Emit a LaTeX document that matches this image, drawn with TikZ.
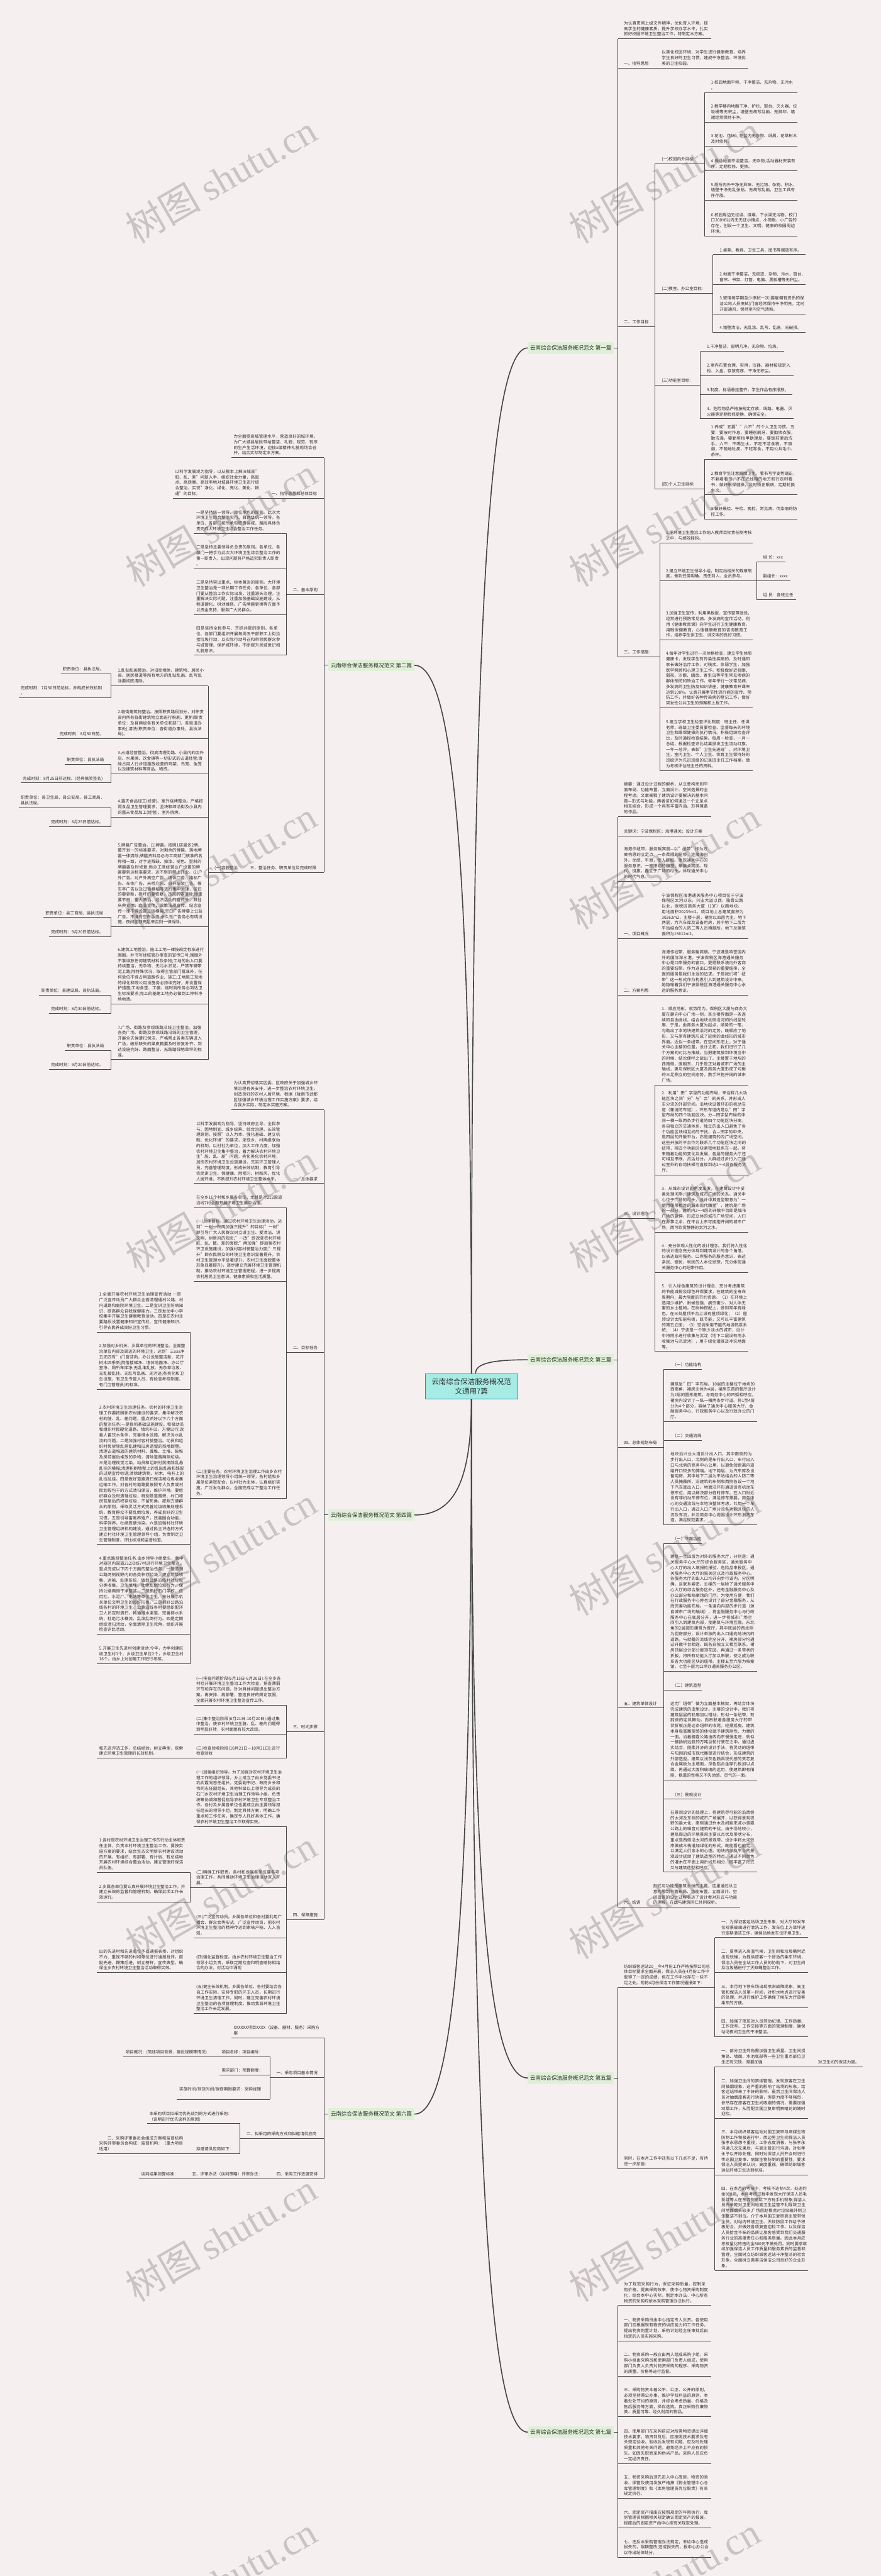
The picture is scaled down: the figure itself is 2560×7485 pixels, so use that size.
\documentclass[tikz,border=0pt]{standalone}
\usepackage{fontspec}
\setmainfont{Noto Sans CJK SC}
\newfontfamily\wmfont{Liberation Serif}[Scale=1]
\XeTeXlinebreaklocale "zh"
\XeTeXlinebreakskip = 0pt plus 1pt
\definecolor{bgc}{RGB}{246,239,240}
\definecolor{tc}{RGB}{45,45,45}
\definecolor{lc}{RGB}{70,70,70}
\definecolor{labg}{RGB}{224,240,216}
\definecolor{ctrf}{RGB}{166,235,228}
\definecolor{ctrd}{RGB}{58,127,200}
\definecolor{wmc}{RGB}{110,105,105}
\tikzset{
 txt/.style={inner sep=0pt, align=left, font=\fontsize{12}{16}\selectfont, text=tc, execute at end node=\strut},
 ln/.style={draw=lc, line width=1.8pt},
 trunk/.style={draw=lc, line width=3pt},
 lab/.style={fill=labg, inner xsep=7pt, inner ysep=0pt, minimum height=34pt, font=\fontsize{15.5}{18}\selectfont, text=tc},
 ctr/.style={fill=ctrf, draw=ctrd, line width=1.5pt, minimum width=268pt, minimum height=74pt, align=center, font=\fontsize{21}{27}\selectfont, text=tc},
 wm/.style={rotate=30, text=wmc, text opacity=0.32, font=\fontsize{110}{110}\selectfont}
}
% optional text width, name, x0, x1, yu, pad, text
\newcommand\TN[7][250]{%
 \coordinate (#2-l) at (#3,#5);
 \coordinate (#2-r) at (#4,#5);
 \node[txt, text width=#1pt, anchor=south west] (#2) at (#3+#6,#5-4) {#7};
 \draw[ln] (#2-l) -- (#2-r);
}
\newcommand\RC[2]{\foreach \cc in {#2}{\draw[ln] (#1-r) |- (\cc-l);}}
\newcommand\LC[2]{\foreach \cc in {#2}{\draw[ln] (#1-l) |- (\cc-r);}}
\begin{document}
\begin{tikzpicture}[x=1pt,y=-1pt]
\fill[bgc] (0,0) rectangle (2560,7485);
\useasboundingbox (0,0) rectangle (2560,7485);

% ---------------- centre ----------------
\node[ctr] (C) at (1370,4028) {云南综合保洁服务概况范\\文通用7篇};

% top-level labels
\node[lab, anchor=east] (T1) at (1784,1011) {云南综合保洁服务概况范文 第一篇};
\coordinate (T1-r) at (1796,1011);
\node[lab, anchor=west] (T2) at (954,1933) {云南综合保洁服务概况范文 第二篇};
\coordinate (T2-l) at (942,1933);
\node[lab, anchor=east] (T3) at (1784,3951) {云南综合保洁服务概况范文 第三篇};
\coordinate (T3-r) at (1796,3951);
\node[lab, anchor=west] (T4) at (954,4402) {云南综合保洁服务概况范文 第四篇};
\coordinate (T4-l) at (942,4402);
\node[lab, anchor=east] (T5) at (1784,6038) {云南综合保洁服务概况范文 第五篇};
\coordinate (T5-r) at (1796,6038);
\node[lab, anchor=west] (T6) at (954,6143) {云南综合保洁服务概况范文 第六篇};
\coordinate (T6-l) at (942,6143);
\node[lab, anchor=east] (T7) at (1784,7067) {云南综合保洁服务概况范文 第七篇};
\coordinate (T7-r) at (1796,7067);
\foreach \t in {T1,T3,T5,T7}{\draw[ln] (\t.east) -- (\t-r);}
\foreach \t in {T2,T4,T6}{\draw[ln] (\t.west) -- (\t-l);}

\draw[trunk] (C.north) .. controls (1370,1756) and (1424,1011) .. (T1.west);
\draw[trunk] (C.north) .. controls (1370,2447) and (1313,1933) .. (T2.east);
\draw[trunk] ([xshift=12pt]C.north) .. controls (1382,3961) and (1433,3951) .. (T3.west);
\draw[trunk] (C.south) .. controls (1370,4318) and (1313,4402) .. (T4.east);
\draw[trunk] (C.south) .. controls (1370,5545) and (1424,6038) .. (T5.west);
\draw[trunk] (C.south) .. controls (1370,5623) and (1313,6143) .. (T6.east);
\draw[trunk] (C.south) .. controls (1370,6316) and (1424,7067) .. (T7.west);

% ---------------- 第一篇 ----------------
\TN{a1}{1796}{2067}{113}{17}{为认真贯彻上级文件精神，优化育人环境，提高学生的健康素质，提升学校办学水平，扎实抓好校园环境卫生整治工作，特制定本方案。}
\TN{a2}{1796}{1917}{198}{17}{一、指导思想}
\TN{a2c}{1917}{2175}{198}{6}{以美化校园环境，对学生进行健康教育，培养学生良好的卫生习惯，建成干净整洁、环境优美的卫生校园。}
\TN{a3}{1796}{1904}{949}{17}{二、工作目标}
\TN{b1}{1904}{2047}{476}{19}{(一)校园内外目标:}
\TN{c1}{2047}{2318}{269}{19}{1.校园地面平坦、干净整洁、无杂物、无污水\\。}
\TN{c2}{2047}{2318}{355}{19}{2.教学楼内地面干净、护栏、窗台、灭火器、垃圾桶等无积尘，墙壁无胡写乱画、无脚印、墙裙经常保持干净。}
\TN{c3}{2047}{2318}{425}{19}{3.花池、花坛、花盆内无杂物、纸屑，花草树木及时修剪。}
\TN{c4}{2047}{2318}{497}{19}{4.操场地面平坦整洁，无杂物;活动器材安装有序，定期检修、更换。}
\TN{c5}{2047}{2318}{582}{19}{5.厕所内外干净无异味、无污物、杂物、积水，墙壁干净无乱张贴、无胡写乱画，卫生工具有序存放。}
\TN{c6}{2047}{2318}{686}{19}{6.校园周边无垃圾、煤堆，下水渠无污物，校门口200米以内无无证小摊点、小商贩、小广告的存在，创设一个卫生、文明、健康的校园周边环境。}
\TN{b2}{1904}{2072}{853}{19}{(二)教室、办公室目标:}
\TN{d1}{2072}{2341}{740}{19}{1.桌凳、教具、卫生工具、图书等摆放有序。}
\TN{d2}{2072}{2341}{826}{19}{2.地面干净整洁，无痰迹、杂物、污水，窗台、窗帘、书架、灯管、电脑、黑板槽等无积尘。}
\TN{d3}{2072}{2341}{912}{19}{3.玻璃每学期至少擦拭一次(要雇佣有资质的保洁公司人员擦拭)门窗经常保持干净明亮，定时开窗通风，保持室内空气清新。}
\TN{d4}{2072}{2341}{966}{19}{4.墙壁清洁，无乱涂、乱写、乱画，无破损。}
\TN{b3}{1904}{2035}{1119}{19}{(三)功能室目标:}
\TN{e1}{2035}{2278}{1021}{19}{1.干净整洁，窗明几净，无杂物、垃圾。}
\TN{e2}{2035}{2306}{1092}{19}{2.室内布置合理、实用，仪器、器材按规定入柜、入盒，存放有序，干净无积尘。}
\TN{e3}{2035}{2303}{1147}{19}{3.制度、标语悬挂整齐，学生作品有序摆放。}
\TN{e4}{2035}{2306}{1217}{19}{4、危险物品严格按规定存放，线路、电器、灭火器等定期检修更换，确保安全。}
\TN{b4}{1904}{2047}{1421}{19}{(四)个人卫生目标:}
\TN{f1}{2047}{2318}{1335}{19}{1.养成"五要""六不"的个人卫生习惯。五要：要按时作息，要睡前刷牙，要勤换衣服，勤洗澡，要勤剪指甲勤理发，要饭前便后洗手。六不：不喝生水，不吃不洁食物，不吸烟，不随地吐痰，不吃零食，不用公共毛巾、茶杯。}
\TN{f2}{2047}{2318}{1438}{19}{2.教育学生注意眼睛卫生，看书写字姿势端正，不躺着看书，不在光线暗的地方和行走时看书，做好眼保健操，及时矫正眼病，定期轮换坐次。}
\TN{f3}{2047}{2318}{1508}{19}{3.做好晨检、午检、晚检，常见病、传染病的防控工作。}
\TN{a4}{1796}{1917}{1909}{17}{三、工作措施：}
\TN{g1}{1917}{2188}{1578}{18}{1.把环境卫生整治工作纳入教师目标责任制考核之中，与绩效挂钩。}
\TN{g2}{1917}{2199}{1688}{18}{2.建立环境卫生领导小组，制定出相关的规章制度，做到任务明确、责任到人、全员参与。}
\TN{h1}{2199}{2282}{1633}{18}{组 长：xxx}
\TN{h2}{2199}{2297}{1688}{18}{副组长：xxxx}
\TN{h3}{2199}{2313}{1742}{18}{组 员：各班主任}
\TN{g3}{1917}{2188}{1860}{18}{3.加强卫生宣传，利用黑板报、宣传窗等途径，经常进行预防常见病、多发病的宣传活动，利用《健康教育课》向学生进行卫生健康教育，用眼保健教育，心理健康教育的咨询教育工作，培养学生讲卫生、讲文明的良好习惯。}
\TN{g4}{1917}{2188}{2057}{18}{4.每年对学生进行一次体格检查，建立学生体质健康卡，发现学生有传染性疾病的，及时通知家长做好治疗工作，对残疾、体弱学生，加强医学照顾和心理卫生工作。积极做好近视眼、弱视、沙眼、龋齿、寄生虫等学生常见疾病的群体预防和矫治工作。每年举行一次常见病、多发病的卫生防疫知识讲座，健康教育开课率达到100\%，认真开展季节性流行病的宣传、预防工作，并做好各种传染病的登记工作，做好突发性公共卫生的预案和上报工作。}
\TN{g5}{1917}{2188}{2239}{18}{5.建立学校卫生检查评比制度：班主任、任课老师、班级卫生委员要检查、监督每天的环境卫生和眼保健操的执行情况。积极组织检查评比，及时通报检查结果。每周一检查，一月一总结，根据检查评比结果颁发卫生流动红旗，一年一总评，表彰"卫生先进班"，对环境卫生，室内卫生、个人卫生、体育卫生保持好的班级评为先进班级的记录班主任工作档案，做为考核评估班主任的资料。}
\RC{T1}{a1,a2,a3,a4}
\RC{a3}{b1,b2,b3,b4}
\RC{b1}{c1,c2,c3,c4,c5,c6}
\RC{b2}{d1,d2,d3,d4}
\RC{b3}{e1,e2,e3,e4}
\RC{b4}{f1,f2,f3}
\RC{a4}{g1,g2,g3,g4,g5}
\RC{g2}{h1,h2,h3}

% ---------------- 第三篇 ----------------
\TN{p1}{1796}{2067}{2373}{17}{摘要：通过设计过程的解析，从立意构思到平面布局、功能布置、立面设计、空间造景的全程考虑。文章阐释了建筑设计要解决的基本问题—形式与功能，两者该如何通过一个立足点相互结合，形成一个具有丰富内涵、形神兼备的作品。}
\TN{p2}{1796}{2055}{2429}{17}{关键词：宁波保税区；海港通关；设计方案}
\TN{p3}{1796}{2067}{2561}{17}{海港作纽带，服务暖宾朋—以"纽带"作为方案构思的立足点。一条柔顺的纽带，连接海内外。动感、平滑，使人舒服。体现通关中心的服务意识。一座阳刚的雕塑，聚集众宾朋。现代、挺拔，矗立于广场的尽头。体现通关中心的时代气息。}
\TN{p4}{1796}{1917}{2727}{17}{一、项目概况}
\TN{p4c}{1917}{2175}{2727}{6}{宁波保税区海港通关服务中心项目位于宁波保税区太河以东，兴业大道以西，骆霞公路以北，保税区商务大厦（13F）以南地块。用地面积20239m2。项目地上总建筑面积为30262m2，主楼十层，裙房以四层为主，地下两层，为汽车库及设备用房，其中地下二层为平站结合的人防二等人员掩蔽所。地下总建筑面积为15612m2。}
\TN{p5}{1796}{1917}{2892}{17}{二、方案构思}
\TN{p5c}{1917}{2175}{2892}{6}{海港作纽带，服务暖宾朋。宁波港是响誉国内外的国际深水港。宁波保税区海港通关服务中心是口岸服务的窗口，更是联系境内外客商的重要纽带。作为进出口贸易的重要纽带，全面的服务是我们永远的追求。于是我们将"纽带"这一形式作为构思引入到建筑设计中来。她隐喻着我们宁波保税区海港通关服务中心永远的服务意识。}
\TN{p6}{1796}{1904}{3540}{17}{三、设计理念}
\TN{q1}{1904}{2175}{3153}{19}{1．顺应地形，就势而为。保税区大厦与商务大厦在朝向中心广场一侧，其主楼界面是一条连续的自由曲线，结合地块北侧沿河的折线型轮廓，于是，由商务大厦为起点，顺势的一笔，勾勒出了本地块建筑沿河的走势，既顺应了地形，又与原有建筑形成了延续的曲线形的城市界面。近似一条纽带。在空间形态上，对于通关中心主楼的位置，设计之初，我们进行了几个方案的对比与推敲。当把建筑放到环境当中的时候，结论便呼之欲出了。主楼置于地块的西南侧，面朝东，几乎是正对着城市广场的主轴线，更与保税区大厦及商务大厦形成了均衡的三足鼎立的空间态势，携手环抱开阔的城市广场。}
\TN{q2}{1904}{2175}{3414}{19}{2．利用"田"字型的功能布局，来诠释几大功能区块之间"分"与"合"的关系，并形成人车分流的外部空间。沿地块设置环形的机动车道（兼消防车道），环形车道内是以"田"字型布局的四个功能区块。分—田字型布局的中间一横一纵两条步行道将四个功能区块分离，各自独立的交通体系、独立的出入口避免了各个功能区块相互间的干扰。合—田字的中央，是四层的开敞平台，亦是建筑的内广场空间。这些开放的平台作为联系几个功能区块之间的纽带，将四个功能区块紧密地联系在一起。将来随着功能的变化及发展，各层的服务大厅还可相互串联，灵活划分。人群经过步行入口通过室外的自动扶梯可直接到达2～4层各服务大厅。}
\TN{q3}{1904}{2175}{3580}{19}{3．从城市设计的角度出发，在建筑设计中妥善处理河岸、建筑及城市广场的关系。通关中心位于广场的尽头，设计中其造型取意为"一组用纽带相连的城市现代雕塑"，建筑是广场的一部分。建筑内2～4层的开敞平台即是城市广场的延伸，形成立体的城市广场空间，人们在办事之余，在平台上东可拥抱开阔的城市广场，西可欣赏静静的太河之水。}
\TN{q4}{1904}{2175}{3697}{19}{4．充分体现人性化的设计理念。我们将人性化的设计理念充分体现到建筑设计的各个角落，以表达政府服务、口岸服务的服务意识，表达亲民、便民、利民的人本位思想，充分体现通关服务中心的纽带作用。}
\TN{q5}{1904}{2175}{3927}{19}{5．引入绿色建筑的设计理念，充分考虑建筑的节能减排及绿色环保要求，在建筑的全寿命周期内，最大限度的节约资源。（1）在环境上选用少维护、耐候性强、病虫害少、对人体无害的乡土植物。在树种搭配上，做到常年有绿色。在三处屋顶平台上设有屋顶绿化；（2）屋顶设计太阳能电板，既节能，又可以丰富建筑的第五立面；（3）空调采用节能的地源热泵系统；（4）宁波是一个缺少淡水的城市，设计中将雨水进行收集与沉淀（地下二层设有雨水收集池与沉淀池），用于绿化灌溉及冲洗地面等。}
\TN{p7}{1796}{1929}{4206}{17}{四、总体规划布局}
\TN{r1}{1929}{2040}{3979}{25}{（一）功能结构}
\TN{r2}{1929}{2200}{4131}{19}{建筑呈"田"字布局。10层的主楼位于地块的西南角，裙房主体为4层，裙房东首的餐厅设计为2层的圆形建筑，与商务中心的凹弧相呼应。裙房内设计了一纵一横两条步行道。将1至4层分为4个部分，容纳了通关中心服务大厅、金融服务中心、行政服务中心以及行政办公的门厅。}
\TN{r3}{1929}{2040}{4185}{25}{（二）交通流线}
\TN{r4}{1929}{2200}{4431}{19}{地块沿兴业大道设计出入口。其中南侧的为步行出入口，北侧的是车行出入口，车行出入口与北侧的商务中心公用，以避免短距离内道路开口较多的弊端。地下两层，为汽车库及设备用房，其中地下二层为平站结合的人防二等人员掩蔽所，沿建筑的东侧和西侧各设一个地下汽车库出入口。地面沿环形通道设有机动车停车位，用以解决部分临时停车。在入口附近设有非机动车停车位，满足停车需要。商务中心的交通流线与本地块整体考虑，共用一个车行出入口，通过入口广场分流各功能区块的人流及车流，并沿商务中心周围设计环形消防车道，满足规范要求。}
\TN{p8}{1796}{1929}{4963}{17}{五、建筑单体设计}
\TN{s1}{1929}{2040}{4485}{25}{（一）平面功能}
\TN{s2}{1929}{2200}{4857}{19}{建筑一至四层为对外的服务大厅，分别是：通关服务中心大厅的综合服务区，通关服务中心大厅的出入境报检报验、危险品申报区，通关服务中心大厅的报关区以及行政服务中心。各服务大厅的出入口均开向步行道内，分区明确，且联系紧密。主楼的一层除了通关服务中心大厅的综合服务区外，还有金融服务中心及办公部分和档案馆的门厅。为使用方便，我们在行政服务中心旁也设计了部分金融服务，从而完善功能布局。一条通向内部的步行道（源自城市广场的轴线），将金融服务中心与行政服务中心在底层分开，进一步将城市广场空间引入到建筑内部，使建筑与环境互融。东北角的2层圆形建筑为餐厅，其中底层的西北侧为厨房部分，设计单独的出入口通向地块内的道路，与就餐的流线完全分开。裙房部分均通过开敞平台相连，既各自独立又相互联系。裙房顶层设计部分屋顶花园，再通过一条带状的折板，将所有功能大厅加以串联，使之成为联系各大功能区块的纽带。主楼五至六层为档案馆，七至十层为口岸办通关服务办公区。}
\TN{s3}{1929}{2040}{4911}{25}{（二）建筑造型}
\TN{s4}{1929}{2200}{5172}{19}{运用"纽带"做为立面基本框架，再结合体块完成建筑的造型设计。主楼的设计中，我们将建筑层层的轮廓加以错动，形似一条纽带，有韵律的迎风舞动，而串联着各服务大厅的带状折板正是这条纽带的收尾，轻摆摇曳。建筑本身极富雕塑感的体块赋予建筑刚性、力量的一面。沿着骆霞公路由西向东慢慢走进，就似一艘扬帆远航的万吨巨轮行驶在之中。通过虚实结合，刚柔并济的设计手法，将灵动的纽带与阳刚的城市现代雕塑进行结合，形成建筑的外部造型。建筑以浅灰色颇具现代感的夹芯复合金属板为主墙面，深色铝合金穿孔板加以点缀，再通过大面积玻璃的运用，使建筑即有阳刚、稳重的性格又不失动感、灵气的一面。}
\TN{s5}{1929}{2040}{5228}{25}{（三）景观设计}
\TN{s6}{1929}{2200}{5440}{19}{在景观设计的处理上，将建筑尽可能的沿西侧的太河及东侧的城市广场展开，以获得景观视野的最大化，南侧通过乔木及间距来减小骆霞公路上的噪音对建筑的干扰。由于场地较小，建筑周边的环境景观主要以点状及带状分布，重点是西侧沿太河的景观带。设计中将太河驳岸做成木栈道加绿化的形式。既能看也能走。以满足人们亲水的心理。地块内部及平台的景观设计延续了建筑造型的特点。通过不同颜色的灌木在平面上用折线形相分，既丰富了形式又与建筑造型相呼应。}
\TN{p9}{1796}{1894}{5542}{17}{六、结语}
\TN{p9c}{1894}{2150}{5542}{4}{形式与功能是建筑永恒的主题，这里通过从立意构思到平面布局、功能布置、立面设计、空间造景的设计过程表达了设计者对形式与功能的理解，在此与建筑同仁共同探析。}
\RC{T3}{p1,p2,p3,p4,p5,p6,p7,p8,p9}
\RC{p6}{q1,q2,q3,q4,q5}
\RC{p7}{r1,r2,r3,r4}
\RC{p8}{s1,s2,s3,s4,s5,s6}

% ---------------- 第五篇 ----------------
\TN{t1}{1796}{2077}{5775}{17}{纺织城客运站20\_\_年4月份工作严格按照公司总体目标要求全面开展，保洁人员在4月份工作中取得了一定的成绩，但在工作中也存在一些不足之处。现将4月份保洁工作情况通报如下：}
\TN{u1}{2077}{2349}{5630}{19}{一、为保证客运站场卫生形象，对大厅的发车位观景玻璃进行清洗工作，发车位上方草坪进行定期清洁工作，确保站场发车位环境卫生。}
\TN{u2}{2077}{2349}{5732}{19}{二、夏季进入高温气候，卫生间和垃圾桶附近出现蚊蝇，为提供旅客一个舒适的乘车环境，保洁人员在全站工作人员的协助下，对卫生间及垃圾桶进行了灭蚊蝇整治工作。}
\TN{u3}{2077}{2349}{5834}{19}{三、本月地下停车场出现喷淋故障现象，高主管和保洁人员第一时间，对积水地点进行妥善的处理，并进行维护工作确保了候车大厅旅客乘车的方便。}
\TN{u4}{2077}{2349}{5918}{19}{四、加强了夜班对人员劳动纪律、工作质量、工作效率、工作交接等方面的管理制度，确保站场夜间卫生的干净整洁。}
\TN{t2}{1796}{2077}{6302}{17}{同时，在本月工作中还有以下几点不足，有待进一步加强：}
\TN{v1}{2077}{2349}{6005}{19}{一、部分卫生死角需加强卫生质量。卫生间拐角处、墙面、水池底部等一些卫生重点部位卫生还有欠缺，需要加强}
\TN{v1c}{2349}{2507}{6005}{28}{对卫生间的保洁力度。}
\TN{v2}{2077}{2349}{6156}{19}{二、加强卫生间的禁烟管理。发现旅客在卫生间抽烟现象，这严重的影响了站场的形象，给客运站带来了不好的影响，虽然卫生间保洁人员对抽烟旅客进行劝离，但是力度不够强烈，依然存在旅客在卫生间吸烟的情况，需要加强劝烟工作，从而配合国卫复审明察暗访的随时迎检。}
\TN{v3}{2077}{2349}{6320}{19}{三、本月纺织城客运站对国卫复审与病媒生物防制工作积极进行中，西边男卫生间保洁人员张孝永思想不重视，工作态度消极，与张孝永沟通几次无果后，与高主管进行沟通，对张孝永予以开除处理，同时对保洁人员开会时进行传达国卫复审、病媒生物防制的重要性，要求保洁人员提高认识，高度重视，确保纺织城客运站环境卫生达到标准。}
\TN{v4}{2077}{2349}{6597}{19}{四、在本月的考核中，考核不达标4次，处违约金800元，本月考核过程中发现大厅保洁人员毛爱红等人在东西侧鱼缸下方玩手机现象;保洁人员白录乾对卫生间地面卫生监管不利导致卫生间地面烟头较多;广场层赵根虎对垃圾箱外侧卫生整洁不到位。介于本月国卫复审高主管带领全员，对站内环境卫生、灭蚊防鼠工作给予积极配合，并做好各项复查迎检工作。以及保洁人员拾金不昧的品质让旅客感受到我们交通服务行业的高度责任心和服务质量。因此本月应考核量化的违约金800元不做处罚。同时要求继续加强保洁人员工作质量和服务素质的监督和管理，全面树立纺织城客运站干净整洁的社会形象，全面树立惠美洁保洁公司良好的企业形象。}
\RC{T5}{t1,t2}
\RC{t1}{u1,u2,u3,u4}
\RC{t2}{v1,v2,v3,v4}

% ---------------- 第七篇 ----------------
\TN{w0}{1796}{2067}{6699}{17}{为了规范采购行为，保证采购质量，控制采购价格，提高采购效率，使中心物资采购制度化，结合本中心实际，制定本办法。中心所有物资的采购均依本采购管理办法执行。}
\TN{w1}{1796}{2067}{6802}{17}{一、物资采购员由中心指定专人负责。各使用部门应根据现有物资的供应能力和工作任务，提出物资购置计划，采购计划经主任审批后由指定的人员实施采购。}
\TN{w2}{1796}{2067}{6904}{17}{二、物资采购一般应由两人组成采购小组，采购小组由采购员和使用部门负责人组成，使用部门负责人负责对物资采购的程序、采购物资的质量、价格等进行监督。}
\TN{w3}{1796}{2067}{7022}{17}{三、采购物资本着公平、公正、公开的原则，必须坚持秉公办事，维护学校利益的原则，本着处处节约的原则，并综合考虑质量、价格及售后服务等方面，择优选购。真正采购价廉物美、质量可靠、经久耐用的物品。}
\TN{w4}{1796}{2067}{7158}{17}{四、使用部门在采购前应对所需物资提出详细技术要求。物资到货后，应按照技术要求及有关规定验收。验收后发现有问题，应及时处理质量和其他有关问题，避免经济上不应有的损失。如因失职而采购伪劣产品，采购人员应负一定经济责任。}
\TN{w5}{1796}{2067}{7260}{17}{五、物资采购后须先进入中心库房，物资的验收、保管及使用发放严格按《物业管理中心仓库管理制度》和《库房管理员岗位职责》有关规定执行。}
\TN{w6}{1796}{2067}{7345}{17}{六、固定资产报废应按照规定的年限执行，库房管理员根据相关规定确认固定资产的报废。报废后的固定资产由中心按有关规定处理。}
\TN{w7}{1796}{2067}{7431}{17}{七、违反本采购管理办法规定，未给中心造成损失的，限期整改;造成损失的，报中心办公会议作出纪律处分。}
\RC{T7}{w0,w1,w2,w3,w4,w5,w6,w7}

% ---------------- 第二篇 ----------------
\TN{k1}{672}{942}{1330}{7}{为全面提高城管理水平，营造良好的城环境，为广大城县居民带给整洁、礼貌、规范、有序的生产生活环境，迎接x级精神礼貌现场会召开，结合实际制定本方案。}
\TN{k2}{782}{942}{1448}{7}{一、指导思想和总体目标}
\TN{k2c}{502}{782}{1448}{7}{以科学发展观为指导，以从根本上解决城县"脏、乱、差"问题入手，组织社会力量，高起点、高质量、高效率地对城县环境卫生进行综合整治，实现"净化、绿化、亮化、美化、畅通"的目标。}
\TN{k3}{833}{942}{1727}{18}{二、基本原则}
\TN{m1}{563}{833}{1550}{7}{一是坚持统一领导、单位承包的原则。此次大环境卫生综合整治实行、县两级统一领导，各单位、各部门按所承包职责县域、路段具体负责完成大环境卫生综合整治工作任务。}
\TN{m2}{563}{833}{1652}{7}{二是坚持主要领导负总责的原则。各单位、各部门一把手为此次大环境卫生综合整治工作的第一职责人，出现问题将严格追究职责人职责\\。}
\TN{m3}{563}{833}{1786}{7}{三是坚持突出重点、标本兼治的原则。大环境卫生整治是一项长期工作任务，各单位、各部门要从整治工作实际出发，注重源头治理，注重解决实际问题，注重加强基础设施建设，从巷道硬化、树池维修、广告牌匾更换等方面予以资金支持，服务广大民群众。}
\TN{m4}{563}{833}{1904}{7}{四是坚持全民参与、齐抓共管的原则。各单位、各部门要组织开展每周五干部职工上街捡拾垃圾行动，以实际行动号召和带领民群众参与城管理、保护城环境，不断提升民城意识和礼貌意识。}
\TN{k4}{722}{942}{2535}{5}{三、整治任务、职责单位及完成时限}
\TN{k4c}{605}{722}{2535}{18}{(一)容貌整治}
\TN{n1}{323}{605}{1993}{19}{1.乱贴乱画整治。对沿街墙体、建筑物、居民小县、居民楼道等所有地方的乱贴乱画、乱写乱涂要彻底清除。}
\TN{n1a}{177}{323}{1958}{5}{职责单位：县执法局。}
\TN{n1b}{54}{323}{2028}{6}{完成时刻：7月30日前达标，并构成长效机制\\。}
\TN{n2}{323}{605}{2147}{19}{2.临街建筑物整治。按照职责路段划分，对职责县内所有临街建筑物立面进行粉刷、更新(职责单位：及县两级各有关单位和部门，各街道办事处);清洗(职责单位：各街道办事处，县执法局)。}
\TN{n2a}{167}{323}{2147}{6}{完成时刻：8月30日前。}
\TN{n3}{323}{605}{2249}{19}{3.占道经营整治。彻底清理街路、小县内的店外店、水果摊、饮食摊等一切形式的占道经营;清除占用人行步道摆放经营的鸡架、鸟笼、兔笼以及建筑材料等商品、物资。}
\TN{n3a}{188}{323}{2221}{6}{职责单位：县执法局}
\TN{n3b}{60}{323}{2275}{6}{完成时刻：8月25日前达标。(经典搞笑签名)}
\TN{n4}{323}{605}{2374}{19}{4.露天食品加工(经营)、室外烧烤整治。严格按照食品卫生管理要求，坚决取缔沿街及小县内的露天食品加工(经营)、室外烧烤。}
\TN{n4a}{54}{323}{2347}{6}{职责单位：县卫生局、县公安局、县工商局、县执法局。}
\TN{n4b}{142}{323}{2402}{6}{完成时刻：8月25日前达标。}
\TN{n5}{323}{605}{2693}{19}{5.牌匾广告整治。(1)牌匾。按照1店最多2牌、整齐划一的标准要求，对剩余的牌匾、落地牌匾一律清除;牌匾资料务必与工商部门核准的名称相一致，对字迹残缺、掉漆、褪色、歪斜的牌匾要及时修复;新办工商经营业户设置的牌匾要到达标准要求，达不到的禁止开业。(2)户外广告。对户外高空广告、墙体广告、路标广告、车体广告、天桥广告、自开车架广告、候车亭广告以及过街横幅等进行集中治理，破旧的要更新，损坏的要修复，违规的要清除;除重要节日，重大政治、经济活动的宣传外，其他庆典宣传、商业宣传、政策法规宣传、纪念宣传一律不得设置过街横幅;空白广告牌要上公益广告，不准有空白版面;永久性广告务必有明设施，夜间能够亮起来否则一律拆除。}
\TN{n5a}{126}{323}{2666}{6}{职责单位：县工商局、县执法局}
\TN{n5b}{142}{323}{2721}{6}{完成时刻：9月20日前达标。}
\TN{n6}{323}{605}{2917}{19}{6.建筑工地整治。施工工地一律按规定标准进行围圈，并书写经城管办审查的宣传口号;围圈外不准堆放任何建筑材料及杂物;工地的出入口要持续整洁，无杂物、无污水淤泥，严禁车辆带泥上路;除特殊状况，取得主管部门批准外，任何单位不得占用道路作业、施工;工地施工现场的绿化和政公用设施务必持续完好，并设置保护措施;工地食堂、工棚、临时厕所务必到达卫生标准要求;完工的基建工地务必做到工停料净场地清。}
\TN{n6a}{114}{323}{2891}{6}{职责单位：县建设局、县执法局。}
\TN{n6b}{142}{323}{2945}{6}{完成时刻：8月30日前达标。}
\TN{n7}{323}{605}{3079}{19}{7.广场、街路及参观线路沿线卫生整治。加强各类广场、街路及参观线路沿线的卫生管理，开展全天候清扫保洁，严格禁止各类车辆进入广场，破损缺失的果皮箱要及时修复补齐，到达设施完好、路面整洁、无践踏绿地草坪的标准。}
\TN{n7a}{188}{323}{3052}{6}{职责单位：县执法局}
\TN{n7b}{142}{323}{3107}{6}{完成时刻：9月20日前达标。}
\LC{T2}{k1,k2,k3,k4}
\LC{k3}{m1,m2,m3,m4}
\LC{k4c}{n1,n2,n3,n4,n5,n6,n7}
\LC{n1}{n1a,n1b}
\LC{n2}{n2a}
\LC{n3}{n3a,n3b}
\LC{n4}{n4a,n4b}
\LC{n5}{n5a,n5b}
\LC{n6}{n6a,n6b}
\LC{n7}{n7a,n7b}

% ---------------- 第四篇 ----------------
\TN{o1}{672}{942}{3225}{7}{为认真贯彻落实区委、区政府关于加强城乡环境治理有关安排，进一步整治农村环境卫生，创造良好的农村人居环境，根据《陇南市武都区加强城乡环境治理工作实施方案》要求，结合我乡实际，制定本实施方案。}
\TN{o2}{845}{942}{3439}{6}{一、总体要求}
\TN{o2c}{563}{845}{3439}{7}{以科学发展观为指导，坚持政府主导、全民参与、因地制宜、城乡统筹、综合治理、长效管理原则，按照"以人为本、强化基础、建立机制、优化环境"的要求，采取乡、村两级联动的机制，以村社为单位，加大工作力度，加强农村环境卫生集中整治，着力解决农村环境卫生"脏、乱、差"问题，亮化美化农村环境，加快农村环境卫生设施建设，充实环卫管理人员，完善管理制度，形成长效机制，教育引导农民讲卫生、保健康、除陋习、树新风，优化人居环境，不断提升农村环境卫生整体水平。}
\TN{o3}{833}{942}{3930}{18}{二、目标任务}
\TN{o3a}{563}{833}{3509}{7}{在全乡16个村和乡属各单位，尤其是对212国道沿线7村全面开展环境卫生集中治理。}
\TN{o3b}{563}{833}{3723}{7}{(一)总体目标。通过农村环境卫生治理活动，达到"一树一改两加强三提升"的目标("一树"即引导广大人民群众树立讲卫生、爱清洁、讲文明、树新风的观念;"一改"即改变农村环境脏、乱、散、差的面貌;"两加强"即加强农村环卫设施建设，加强村容村貌整治力度;"三提升"即农民群众的环境卫生意识显著提升，农村卫生管理水平显著提升，农村卫生面貌整体形象显著提升)，逐步建立完善环境卫生管理机制，推动农村环境卫生管理进程，进一步提高农村居民卫生意识、健康素质和生活质量。}
\TN{o3c}{553}{833}{4353}{17}{(二)主要任务。农村环境卫生治理工作由乡农村环境卫生治理领导小组统一领导，各村组和乡属单位紧密配合，以村社为主体，认真组织实施，广泛发动群众，全面完成以下整治工作任务。}
\TN{x1}{281}{553}{3871}{7}{1.全面开展农村环境卫生治理宣传活动.一是广泛宣传动员广大群众全面清理通村公路、村内道路和庭院环境卫生。二是宣讲卫生防病知识、提高群众自我保健能力。三是发动中小学校集中开展卫生健康教育活动。四是在农村主要路段设置健康知识宣传栏、宣传健康知识、引导农民养成良好卫生习惯。}
\TN{x2}{281}{553}{4037}{7}{2.加强对乡机关、乡属单位的环境整治。全面整治单位内部及周边的环境卫生，达到"三xxx净五无四有"(门窗洁新、办公设施整洁新、花卉树木四季新;院落楼梯净、墙体地面净、办公厅室净、厕所车库净;无乱堆乱放、无杂草垃圾、无乱接乱挂、无乱写乱画、无污迹;有亮化和卫生设施、有卫生专管人员、有检查考核制度、有门卫管理员)的标准。}
\TN{x3}{281}{553}{4488}{7}{3.农村环境卫生治理任务。农村的环境卫生治理工作要按照新农村建设的要求，集中解决农村的脏、乱、差问题，重点抓好以下六个方面的整治任务:一是狠抓基础设施建设。积极动员和组织村民硬化道路、填坑补凹，方便出行;改善人畜饮水条件，完善排水设施，解决污水乱流的问题。二是加强村容村貌整治。动员和组织村民拆除乱搭乱建和旧房遗留的残墙断壁。清理占道堆放的建筑材料、粪堆、土堆、柴堆及房前屋后堆放的杂物，清除道路两侧垃圾。三是治理视觉污染。动员和组织村民摘除乱悬乱挂的横幅;清理粉刷墙壁上的乱贴乱画和残留的过期宣传标语;清除建筑物、树木、电杆上的乱拉乱挂。四是做好道路清扫保洁和垃圾收集运输工作。对各村的道路要按照专人负责或村民划段包干的方式清扫保洁，维护环境。要组织群众及时清理垃圾，特别是道路旁、村口和房前屋后的积存垃圾，不留死角。按照方便群众的原则，采取灵活方式完善垃圾收集处理系统，教育群众不要乱倒垃圾，养成良好的卫生习惯。五是引导畜禽养殖户，改善圈合功能，科学饲养，杜绝粪便污染。六是加强村社环境卫生管理组织机构建设，通过民主评选的方式建立村社环境卫生管理领导小组，负责制定卫生管理制度、评比标准和监督检查。}
\TN{x4}{281}{553}{4749}{7}{4.重点路段整治任务.由乡领导小组牵头，集中对辖区内国道212沿线7村进行环境卫生整治，重点完成以下四个方面的整治任务。一是清理公路两侧视野内的各类积存垃圾，建立垃圾收集、运输、处理系统，做到公路沿线村社垃圾分类收集，卫生填埋，杜绝乱倒垃圾行为，保持公路两侧干净整洁。二是抓好石门学校、信用社、水泥厂、电站等单位卫生，充分展示机关单位文明卫生的良好形象。三是抓好公路沿线各村的环境卫生。公路沿线各村要组织配环卫人员定时清扫，畅通排水渠道，完善排水系统，杜绝污水横流、乱泼乱倒行为。四是定期组织清扫活动，全面清除卫生死角，组织开展检查评比活动。}
\TN{x5}{281}{553}{4835}{7}{5.开展卫生先进村创建活动.今年，力争创建区级卫生村1个、乡级卫生单位2个，乡级卫生村16个。由乡上对创建工作进行考核。}
\TN{o4}{833}{942}{5032}{18}{三、时间步骤}
\TN{y1}{563}{833}{4954}{7}{(一)排查问题阶段(6月15日-6月20日):在全乡各村社开展环境卫生整治工作大检查，排查薄弱环节和存在的问题，针对具体问题提出整治方案，再安排、再部署，营造良好的舆论氛围，全面开展农村环境卫生整治宣传工作。}
\TN{y2}{563}{833}{5039}{7}{(二)集中整治阶段(6月21日-10月20日):通过集中整治，使农村环境卫生脏、乱、差的问题得到明显好转，农村面貌有较大改观。}
\TN{y3}{563}{833}{5109}{7}{(三)检查验收阶段(10月21日—10月31日):进行检查验收}
\TN{y3c}{281}{563}{5109}{7}{和先进评选工作，总结经验，树立典型，探索建立环境卫生管理的长效机制。}
\TN{o5}{833}{942}{5578}{18}{四、保障措施}
\TN{z1}{563}{833}{5307}{7}{(一)加强组织领导。为了加强对农村环境卫生治理工作的组织领导，乡上成立了由乡党委书记巩武霞同志任组长，党委副书记、政府乡长和伟同志任副组长，其他科级以上领导为成员的石门乡农村环境卫生治理工作领导小组，负责统筹协调和督促指导农村环境卫生专项整治工作。各村及乡属各单位也要成立由主要领导担任组长的领导小组，制定具体方案，明确工作重点和工作任务，确定专人抓好具体工作，确保农村环境卫生整治工作取得实效。}
\TN{z2}{553}{833}{5485}{17}{(二)明确工作职责。各村和乡属各单位要各项治理工作，共同推动环境卫生治理活动深入开展。}
\TN{z2a}{281}{553}{5441}{7}{1.各村是农村环境卫生治理工作的行动主体和责任主体，负责本村环境卫生整治工作。要按实施方案的要求，结合生态文明新农村建设活动的开展，有组织、有部署、有计划、有总结地开展农村环境综合整治活动，建立管理好保洁员队伍。}
\TN{z2b}{281}{553}{5527}{7}{2.乡属各单位要认真开展环境卫生整治工作，并建立长效的监督和管理机制，确保此项工作长效运行。}
\TN{z3}{563}{833}{5631}{7}{(三)广泛宣传动员。乡属各单位和各村要利用广播会、群众会等形式，广泛宣传动员，把农村环境卫生整治的精神传达到家喻户晓、人人皆知。}
\TN{z4}{563}{833}{5732}{7}{(四)强化监督检查。由乡农村环境卫生整治工作领导小组负责，采取定期检查和明查暗防相结合的办法，对活动中涌现}
\TN{z4c}{281}{563}{5732}{7}{出的先进村和先进单位予以通报表扬，对组织不力、重视不够的村和单位进行通报批评。鼓励先进，鞭策后进，树立榜样，宣传典型，确保全乡农村环境卫生整治活动取得实效。}
\TN{z5}{563}{833}{5851}{7}{(五)健全长效机制。乡属各单位、各村要结合各自工作实际，安排专职的环卫人员，长期进行环境卫生清理工作，同时，建立完善农村环境卫生整治的各项管理制度，推动我县环境卫生整治工作长足发展。}
\LC{T4}{o1,o2,o3,o4,o5}
\LC{o3}{o3a,o3b,o3c}
\LC{o3c}{x1,x2,x3,x4,x5}
\LC{o4}{y1,y2,y3}
\LC{o5}{z1,z2,z3,z4,z5}
\LC{z2}{z2a,z2b}

% ---------------- 第六篇 ----------------
\TN{al1}{672}{942}{5921}{7}{XXXXXX项目XXXX（设备、器材、服务）采购方案}
\TN{al2}{784}{942}{6037}{19}{一、采购项目基本情况}
\TN{al2a}{637}{784}{5976}{7}{项目名称：项目编号：}
\TN[270]{al2ac}{359}{637}{5976}{6}{项目概况：(简述项目背景、建设规模等情况)}
\TN{al2b}{637}{784}{6030}{7}{需求部门：预算额度：}
\TN{al2c}{514}{784}{6100}{7}{实施时间/到货时间/保修期限要求：采购经理\\：}
\TN{al3}{698}{942}{6214}{18}{二、拟采用的采购方式和拟邀请供应商}
\TN[270]{al3a}{428}{698}{6171}{6}{本采购项目拟采用优先谈判的方式进行采购：\\（说明进行优先谈判的原因）}
\TN{al3b}{563}{698}{6258}{7}{拟邀请供应商如下：}
\TN{al3bc}{281}{563}{6258}{7}{\hspace*{2em}三、采购评审委员会组成方案和监督机构采购评审委员会构成：监督机构：（重大项目适用）}
\TN{al4}{796}{942}{6330}{7}{四、采购工作进度安排}
\TN{al4c}{551}{796}{6330}{7}{五、评审办法（谈判策略）评审办法：}
\TN{al4cc}{403}{551}{6330}{7}{谈判结果测算标准：}
\LC{T6}{al1,al2,al3,al4}
\LC{al2}{al2a,al2b,al2c}
\LC{al3}{al3a,al3b}

% ---------------- watermarks ----------------
\foreach \k in {0,...,7}{
 \node[wm] at (642,520+997*\k) {树图 {\wmfont shutu.cn}};
 \node[wm] at (1930,520+997*\k) {树图 {\wmfont shutu.cn}};
}
\end{tikzpicture}
\end{document}
